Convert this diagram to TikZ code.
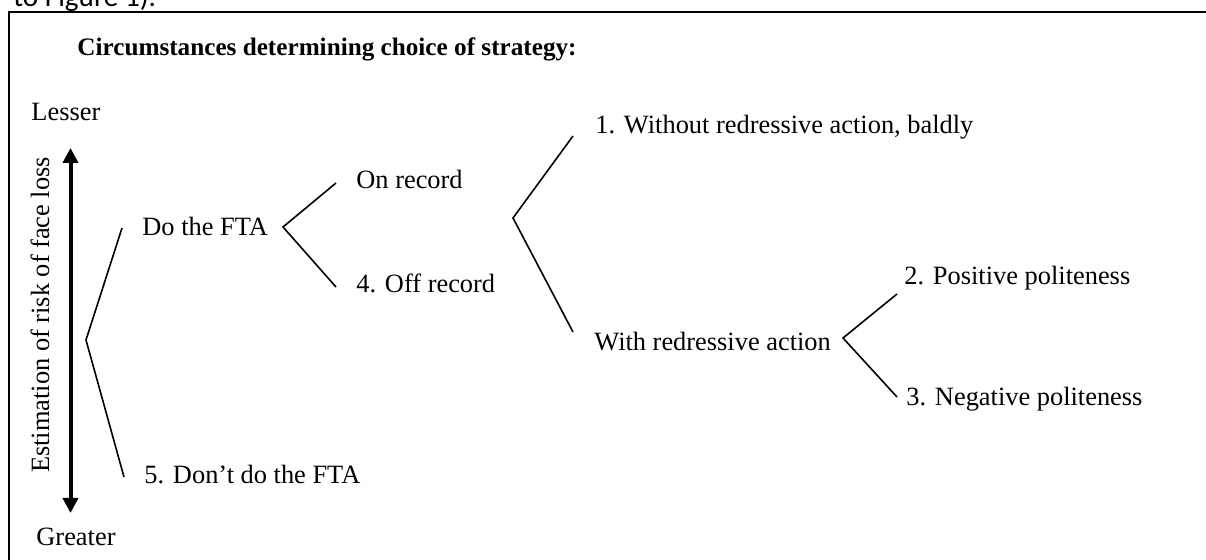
\documentclass[tikz,border=0pt]{standalone}
\usepackage{fontspec}
\setmainfont{Liberation Serif}
\newfontfamily\calibrifont{Carlito}
\usetikzlibrary{arrows.meta}
\begin{document}
\begin{tikzpicture}[x=0.5pt,y=-0.5pt,
  lbl/.style={anchor=base west,inner sep=0pt,font=\fontsize{13.2}{15}\selectfont},
  ttl/.style={anchor=base west,inner sep=0pt,font=\fontsize{12.6}{15}\selectfont\bfseries},
  branch/.style={line width=0.8pt,line join=miter},
  frame/.style={line width=1pt},
  axis/.style={line width=2pt,{Triangle[width=7.5pt,length=7.5pt]}-{Triangle[width=7.5pt,length=7.5pt]}}]
\useasboundingbox (0,0) rectangle (1206,560);
\begin{scope}
  \clip (0,0) rectangle (1206,560);
  \node[anchor=base west,inner sep=0pt,font=\calibrifont\fontsize{14.6}{16}\selectfont] (prev) at (13,7) {to Figure 1).};
  \draw[frame] (9,12) rectangle (1230,590);
\end{scope}

\node[ttl] (title) at (77,56) {Circumstances determining choice of strategy:};

\node[lbl] (lesser) at (31,121) {Lesser};
\node[lbl] (greater) at (36,546) {Greater};
\node[rotate=90,inner sep=0pt,font=\fontsize{13.2}{15}\selectfont] (axlabel) at (40,315) {Estimation of risk of face loss};
\coordinate (axtop) at (70.5,148);
\coordinate (axbot) at (70.5,513);
\draw[axis] (axtop) -- (axbot);

\node[lbl] (dofta) at (142,236) {Do the FTA};
\node[lbl] (dont) at (144,484) {5. Don’t do the FTA};
\node[lbl] (onrec) at (356,189) {On record};
\node[lbl] (offrec) at (356,293) {4. Off record};
\node[lbl] (without) at (595,134) {1. Without redressive action, baldly};
\node[lbl] (with) at (594,351) {With redressive action};
\node[lbl] (pos) at (904,285) {2. Positive politeness};
\node[lbl] (neg) at (906,406) {3. Negative politeness};

% fork 1
\coordinate (v1) at (86,340);
\coordinate (v1a) at (122,228);
\coordinate (v1b) at (124,477);
\draw[branch] (v1a) -- (v1) -- (v1b);
% fork 2
\coordinate (v2) at (283,227);
\coordinate (v2a) at (336,183);
\coordinate (v2b) at (336,287);
\draw[branch] (v2a) -- (v2) -- (v2b);
% fork 3
\coordinate (v3) at (513,218);
\coordinate (v3a) at (573,136);
\coordinate (v3b) at (573,332);
\draw[branch] (v3a) -- (v3) -- (v3b);
% fork 4
\coordinate (v4) at (843,338);
\coordinate (v4a) at (897,294);
\coordinate (v4b) at (897,397);
\draw[branch] (v4a) -- (v4) -- (v4b);
\end{tikzpicture}
\end{document}
